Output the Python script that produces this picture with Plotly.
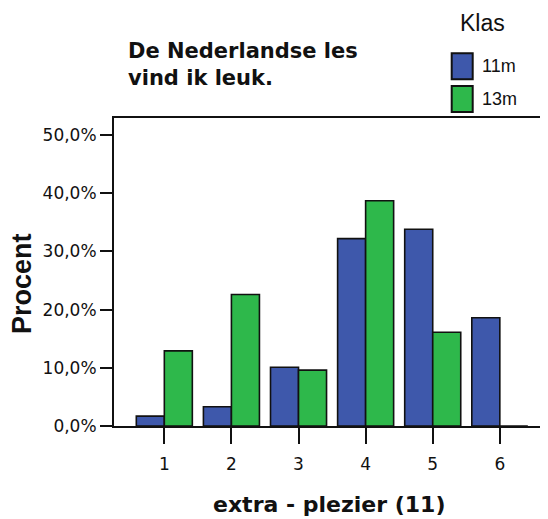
import plotly.graph_objects as go

categories = [1, 2, 3, 4, 5, 6]
series_names = ["11m", "13m"]
values_11m = [1.7, 3.3, 10.1, 32.2, 33.8, 18.6]
values_13m = [12.9, 22.6, 9.6, 38.7, 16.1, 0.0]
colors = ["#3e58ab", "#2eb84b"]
y_tickvals = [0, 10, 20, 30, 40, 50]
y_ticktext = ["0,0%", "10,0%", "20,0%", "30,0%", "40,0%", "50,0%"]
title_text = "De Nederlandse les<br>vind ik leuk."
x_title = "extra - plezier (11)"
y_title = "Procent"
legend_title = "Klas"

# page body has an 8px default margin; shrink figure accordingly
OFF = 8
W, H = 548 - OFF, 519 - OFF
L, R, T, B = 114 - OFF, 548 - OFF, 118 - OFF, 426 - OFF


def px(x):
    return (x - OFF - L) / (R - L)


def py(y):
    return (B - (y - OFF)) / (B - T)


fig = go.Figure()
for name, vals, col in zip(series_names, [values_11m, values_13m], colors):
    fig.add_trace(go.Bar(
        x=categories, y=vals, name=name,
        marker=dict(color=col, line=dict(color="#111111", width=1.6)),
        showlegend=False,
    ))

fig.update_layout(
    width=W, height=H,
    margin=dict(l=L, r=W - R, t=T, b=H - B, pad=0),
    paper_bgcolor="white", plot_bgcolor="white",
    barmode="group", bargap=0.165, bargroupgap=0,
    showlegend=False,
    font=dict(family="DejaVu Sans", color="#111111"),
)
fig.update_xaxes(
    range=[0.25, 0.25 + (R - L) / 67.1],
    tickvals=categories, ticktext=[str(c) for c in categories],
    showline=True, linecolor="#111111", linewidth=2, mirror=True,
    ticks="outside", ticklen=16, tickwidth=2, tickcolor="#111111",
    showgrid=False, zeroline=False,
    tickfont=dict(family="DejaVu Sans", size=17, color="#111111"),
    ticklabelstandoff=6,
)
fig.update_yaxes(
    range=[0, (B - T) / 5.82],
    tickvals=y_tickvals, ticktext=y_ticktext,
    showline=True, linecolor="#111111", linewidth=2,
    ticks="outside", ticklen=12, tickwidth=2, tickcolor="#111111",
    showgrid=False, zeroline=False,
    tickfont=dict(family="DejaVu Sans", size=17, color="#111111"),
)

ann = []
ann.append(dict(text=title_text, xref="paper", yref="paper", x=px(126), y=py(64),
                xanchor="left", yanchor="middle", align="left", showarrow=False,
                font=dict(family="DejaVu Sans", size=21, color="#111111", weight="bold")))
ann.append(dict(text=x_title, xref="paper", yref="paper", x=px(329), y=py(504),
                xanchor="center", yanchor="middle", showarrow=False,
                font=dict(family="DejaVu Sans", size=22, color="#111111", weight="bold")))
ann.append(dict(text=y_title, xref="paper", yref="paper", x=px(22), y=py(284),
                xanchor="center", yanchor="middle", textangle=-90, showarrow=False,
                font=dict(family="Liberation Sans", size=27, color="#111111", weight="bold")))
ann.append(dict(text=legend_title, xref="paper", yref="paper", x=px(482.5), y=py(23),
                xanchor="center", yanchor="middle", showarrow=False,
                font=dict(family="Liberation Sans", size=23, color="#111111")))

shapes = []
box_tops = [53.3, 86.0]
for i, (name, col) in enumerate(zip(series_names, colors)):
    y0 = box_tops[i]
    y1 = y0 + 26
    shapes.append(dict(type="rect", xref="paper", yref="paper",
                       x0=px(451.7), x1=px(472.7), y0=py(y1), y1=py(y0),
                       fillcolor=col, line=dict(color="#111111", width=2)))
    ann.append(dict(text=name, xref="paper", yref="paper", x=px(480), y=py((y0 + y1) / 2),
                    xanchor="left", yanchor="middle", showarrow=False,
                    font=dict(family="Liberation Sans", size=18, color="#111111")))

fig.update_layout(annotations=ann, shapes=shapes)
fig.write_html("out.html")
